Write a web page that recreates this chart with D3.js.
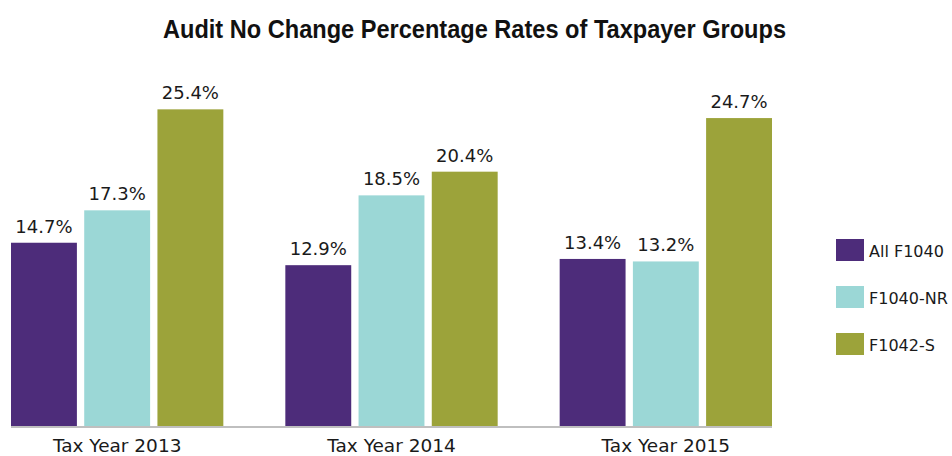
<!DOCTYPE html>
<html><head><meta charset="utf-8">
<script src="https://cdn.jsdelivr.net/npm/d3@7"></script>
<style>html,body{margin:0;padding:0;background:#fff;}svg{display:block;}</style>
</head><body>
<svg id="chart" width="952" height="456"></svg>
<script>
const categories = ["Tax Year 2013", "Tax Year 2014", "Tax Year 2015"];
const seriesNames = ["All F1040", "F1040-NR", "F1042-S"];
const allF1040 = [14.7, 12.9, 13.4];
const f1040NR = [17.3, 18.5, 13.2];
const f1042S = [25.4, 20.4, 24.7];
const colors = ["#4d2c7a", "#9bd7d6", "#9ca33a"];
const title = "Audit No Change Percentage Rates of Taxpayer Groups";

const series = [allF1040, f1040NR, f1042S];
const svg = d3.select("#chart");
const font = "'DejaVu Sans', sans-serif";

const x0 = d3.scaleBand().domain(categories).range([11, 772]).paddingInner(0.226).paddingOuter(0);
const x1 = d3.scaleBand().domain(seriesNames).range([0, x0.bandwidth()]).paddingInner(0.1).paddingOuter(0);
const y = d3.scaleLinear().domain([0, 30]).range([426, 52]);

const data = [];
categories.forEach((c, i) => seriesNames.forEach((s, j) => data.push({c, s, j, v: series[j][i]})));

svg.append("g").selectAll("rect").data(data).join("rect")
  .attr("x", d => x0(d.c) + x1(d.s))
  .attr("y", d => y(d.v))
  .attr("width", x1.bandwidth())
  .attr("height", d => y(0) - y(d.v))
  .attr("fill", d => colors[d.j]);

svg.append("g").selectAll("text").data(data).join("text")
  .attr("x", d => x0(d.c) + x1(d.s) + x1.bandwidth() / 2)
  .attr("y", d => y(d.v) - 10)
  .attr("text-anchor", "middle")
  .attr("font-family", font).attr("font-size", 18).attr("fill", "#1a1a1a")
  .text(d => d.v.toFixed(1) + "%");

const xAxis = svg.append("g").attr("transform", `translate(0,${y(0)})`)
  .call(d3.axisBottom(x0).tickSize(0).tickPadding(13));
xAxis.select(".domain").attr("stroke", "#bfbfbf").attr("stroke-width", 2).attr("d", "M11,1H772");
xAxis.selectAll("text").attr("font-family", font).attr("font-size", 18.5).attr("fill", "#1a1a1a");

svg.append("text").attr("x", 474.5).attr("y", 38).attr("text-anchor", "middle")
  .attr("font-family", "'Liberation Sans', sans-serif")
  .attr("font-weight", "bold").attr("font-size", 25).attr("fill", "#111")
  .attr("textLength", 623).attr("lengthAdjust", "spacingAndGlyphs")
  .text(title);

const leg = svg.append("g").selectAll("g").data(seriesNames).join("g")
  .attr("transform", (d, i) => `translate(836,${239 + i * 47})`);
leg.append("rect").attr("width", 28).attr("height", 22).attr("fill", (d, i) => colors[i]);
leg.append("text").attr("x", 33).attr("y", 18)
  .attr("font-family", font).attr("font-size", 16).attr("fill", "#1a1a1a")
  .text(d => d);
</script>
</body></html>
